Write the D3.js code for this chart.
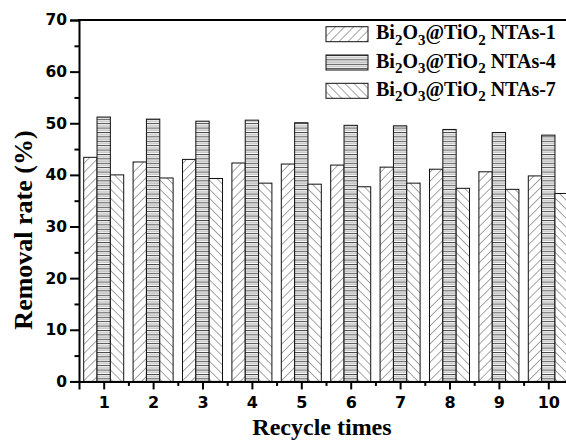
<!DOCTYPE html>
<html>
<head>
<meta charset="utf-8">
<script src="https://cdn.jsdelivr.net/npm/d3@7/dist/d3.min.js"></script>
<style>
  html, body { margin: 0; padding: 0; background: #fff; }
  svg { display: block; }
</style>
</head>
<body>
<svg id="chart" width="566" height="440"></svg>
<script>
// Recycle runs on the x axis
const cycles = [1, 2, 3, 4, 5, 6, 7, 8, 9, 10];
// Series names (legend) and removal rates (%)
const seriesNames = ["NTAs-1", "NTAs-4", "NTAs-7"];
const nta1 = [43.4, 42.5, 43.0, 42.3, 42.1, 41.9, 41.5, 41.1, 40.6, 39.8];
const nta4 = [51.2, 50.8, 50.4, 50.6, 50.1, 49.6, 49.5, 48.8, 48.2, 47.7];
const nta7 = [40.0, 39.4, 39.3, 38.4, 38.2, 37.7, 38.4, 37.4, 37.2, 36.4];
const yTicks = [0, 10, 20, 30, 40, 50, 60, 70];

const seriesValues = [nta1, nta4, nta7];
const patternIds = ["hatch-fwd", "hatch-horiz", "hatch-back"];

const svg = d3.select("#chart");
const plotLeft = 79, plotRight = 573, plotTop = 20, plotBottom = 381.4;

// Hatch patterns
const defs = svg.append("defs");
function diagPattern(id, angle) {
  const p = defs.append("pattern")
    .attr("id", id)
    .attr("patternUnits", "userSpaceOnUse")
    .attr("width", 6.4).attr("height", 6.4)
    .attr("patternTransform", `rotate(${angle})`);
  p.append("rect").attr("width", 6.4).attr("height", 6.4).attr("fill", "#fff");
  p.append("line").attr("x1", 0).attr("y1", 0).attr("x2", 0).attr("y2", 6.4)
    .attr("stroke", "#3a3a3a").attr("stroke-width", 0.9);
}
diagPattern("hatch-fwd", 45);
diagPattern("hatch-back", -45);
const ph = defs.append("pattern")
  .attr("id", "hatch-horiz")
  .attr("patternUnits", "userSpaceOnUse")
  .attr("width", 8).attr("height", 4.4);
ph.append("rect").attr("width", 8).attr("height", 4.4).attr("fill", "#fff");
ph.append("line").attr("x1", 0).attr("x2", 8).attr("y1", 0.5).attr("y2", 0.5)
  .attr("stroke", "#333").attr("stroke-width", 0.9);
ph.append("line").attr("x1", 0).attr("x2", 8).attr("y1", 2.7).attr("y2", 2.7)
  .attr("stroke", "#9a9a9a").attr("stroke-width", 0.9);

// Scales
const xLin = d3.scaleLinear().domain([0.5, 10.5]).range([plotLeft, plotRight]);
const xBand = d3.scaleBand().domain(cycles).range([plotLeft, plotRight])
  .paddingInner(0.19).paddingOuter(0.095);
const xSub = d3.scaleBand().domain(d3.range(seriesNames.length)).range([0, xBand.bandwidth()]);
const y = d3.scaleLinear().domain([0, 70]).range([plotBottom, plotTop]);

// Bars
const groups = svg.append("g").selectAll("g")
  .data(cycles)
  .join("g")
  .attr("transform", d => `translate(${xBand(d)},0)`);
groups.selectAll("rect")
  .data((d, i) => seriesValues.map((vals, s) => ({ s, v: vals[i] })))
  .join("rect")
  .attr("x", d => xSub(d.s))
  .attr("width", xSub.bandwidth())
  .attr("y", d => y(d.v))
  .attr("height", d => y(0) - y(d.v))
  .attr("fill", d => `url(#${patternIds[d.s]})`)
  .attr("stroke", "#111")
  .attr("stroke-width", 1);

// Y axis: major and minor ticks
const yAxis = svg.append("g").attr("transform", `translate(${plotLeft},0)`)
  .call(d3.axisLeft(y).tickValues(yTicks).tickSize(9).tickPadding(3).tickFormat(d3.format("d")));
svg.append("g").attr("transform", `translate(${plotLeft},0)`)
  .call(d3.axisLeft(y).tickValues(d3.range(5, 70, 10)).tickSize(4.5).tickFormat(""))
  .call(g => g.select(".domain").remove());
yAxis.selectAll("text")
  .attr("font-family", "DejaVu Sans")
  .attr("font-weight", "bold")
  .attr("font-size", 15.5)
  .attr("fill", "#000");

// X axis: major and minor ticks
const xAxis = svg.append("g").attr("transform", `translate(0,${plotBottom})`)
  .call(d3.axisBottom(xLin).tickValues(cycles).tickSize(8).tickFormat(d3.format("d")));
svg.append("g").attr("transform", `translate(0,${plotBottom})`)
  .call(d3.axisBottom(xLin).tickValues(d3.range(1.5, 10.5, 1)).tickSize(4.5).tickFormat(""))
  .call(g => g.select(".domain").remove());
xAxis.selectAll("text")
  .attr("font-family", "DejaVu Sans")
  .attr("font-weight", "bold")
  .attr("font-size", 16)
  .attr("fill", "#000")
  .attr("y", 27)
  .attr("dy", 0);

svg.selectAll(".domain").attr("stroke", "#000").attr("stroke-width", 2);
svg.selectAll(".tick line").attr("stroke", "#000").attr("stroke-width", 2);

// Frame top
svg.append("line")
  .attr("x1", plotLeft - 1).attr("x2", plotRight).attr("y1", plotTop).attr("y2", plotTop)
  .attr("stroke", "#000").attr("stroke-width", 2);

// Axis titles
svg.append("text")
  .attr("x", 322).attr("y", 435)
  .attr("text-anchor", "middle")
  .attr("font-family", "Liberation Serif")
  .attr("font-weight", "bold")
  .attr("font-size", 24)
  .text("Recycle times");
svg.append("text")
  .attr("transform", "translate(32,230) rotate(-90)")
  .attr("text-anchor", "middle")
  .attr("font-family", "Liberation Serif")
  .attr("font-weight", "bold")
  .attr("font-size", 26)
  .text("Removal rate (%)");

// Legend
const legend = svg.append("g");
const rows = legend.selectAll("g")
  .data(seriesNames)
  .join("g")
  .attr("transform", (d, i) => `translate(326,${26.7 + i * 28.3})`);
rows.append("rect")
  .attr("width", 42).attr("height", 15)
  .attr("fill", (d, i) => `url(#${patternIds[i]})`)
  .attr("stroke", "#111").attr("stroke-width", 1);
const lt = rows.append("text")
  .attr("x", 50).attr("y", 12.5)
  .attr("font-family", "Liberation Serif")
  .attr("font-weight", "bold")
  .attr("font-size", 20)
  .attr("fill", "#000");
lt.each(function(d) {
  const t = d3.select(this);
  const parts = [["Bi", 0], ["2", 1], ["O", 0], ["3", 1], ["@TiO", 0], ["2", 1], [" " + d, 0]];
  let sub = false;
  parts.forEach(([s, isSub]) => {
    const span = t.append("tspan").text(s);
    if (isSub && !sub) { span.attr("dy", 5.5).attr("font-size", 15); sub = true; }
    else if (isSub) { span.attr("font-size", 15); }
    else if (sub) { span.attr("dy", -5.5); sub = false; }
  });
});
</script>
</body>
</html>
